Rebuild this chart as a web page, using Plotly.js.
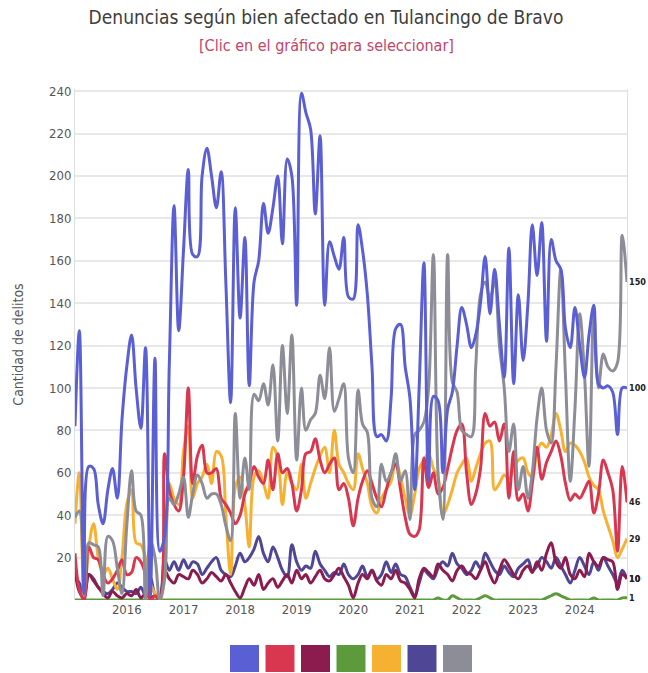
<!DOCTYPE html>
<html>
<head>
<meta charset="utf-8">
<script src="https://cdn.plot.ly/plotly-3.0.1.min.js"></script>
<style>html,body{margin:0;padding:0;background:#fff;}#chart{width:648px;height:673px;}</style>
</head>
<body>
<div id="chart"></div>
<script>
// Monthly series, Feb 2015 - Nov 2024
const startYear = 2015, startMonth = 2, nMonths = 118;
const yearTicks = ['2016','2017','2018','2019','2020','2021','2022','2023','2024'];

const blue = [82,127,3,63,62,45,36,52,62,48,85,110,125,100,81,119,2,114,23,30,
  110,186,127,165,203,163,162,200,213,200,185,202,150,93,185,133,171,101,150,160,
  187,173,185,200,168,208,200,139,239,230,222,182,219,139,169,162,156,171,143,142,
  177,165,144,110,77,78,75,95,128,130,110,95,52,100,159,56,96,94,60,90,
  98,120,138,130,119,125,140,162,135,156,130,105,166,102,144,113,140,177,153,178,
  122,170,160,156,128,119,138,120,105,125,139,102,100,101,98,78,100,100];
const red = [22,5,0,25,20,19,12,8,10,14,19,12,13,20,18,12,0,2,0,69,
  52,45,42,58,100,55,68,73,60,60,62,48,45,41,36,40,50,55,63,58,
  55,66,52,69,60,62,55,42,52,69,70,76,66,60,64,67,52,55,48,35,
  48,56,61,55,48,44,52,60,64,52,39,31,30,33,67,53,60,50,53,62,
  72,80,83,60,45,50,62,88,82,84,75,83,48,70,47,50,42,55,72,57,
  65,70,75,68,55,47,50,48,52,56,41,50,66,60,52,23,63,46];
const maroon = [14,4,1,12,9,6,3,1,4,2,1,3,2,5,1,3,1,2,0,14,
  10,8,12,11,10,14,12,8,10,13,11,9,12,8,4,1,6,10,7,12,
  5,8,10,6,9,12,8,14,10,12,8,11,14,10,9,12,15,11,7,1,
  8,12,10,14,9,7,12,10,14,9,8,5,1,10,15,13,11,17,14,12,
  9,14,16,13,12,10,14,18,12,8,14,19,16,12,10,14,16,13,18,14,
  22,27,18,15,20,12,10,14,11,22,18,16,20,19,18,5,12,10];
const green = [0,0,0,0,0,0,0,0,0,0,0,0,0,0,0,0,0,0,0,0,
  0,0,0,0,0,0,0,0,0,0,0,0,0,0,0,0,0,0,0,0,
  0,0,0,0,0,0,0,0,0,0,0,0,0,0,0,0,0,0,0,0,
  0,0,0,0,0,0,0,0,0,0,0,0,0,0,0,0,0,1,0,0,
  2,1,0,0,0,0,1,2,1,0,0,0,0,0,0,0,0,0,0,0,
  1,2,3,2,1,0,0,0,0,0,1,0,0,0,0,0,1,1];
const orange = [36,60,2,25,36,20,12,15,10,5,20,45,52,27,26,20,8,3,0,10,
  55,48,45,70,82,48,55,58,64,55,70,68,40,12,53,58,45,25,58,61,
  55,48,72,67,45,60,55,52,64,48,55,62,68,72,60,80,64,60,55,52,
  69,62,55,44,41,48,52,56,65,58,48,40,50,62,66,69,62,58,40,45,
  52,60,64,67,56,62,69,74,75,52,55,59,57,62,66,67,60,58,70,74,
  72,78,88,80,70,74,73,70,65,58,54,52,42,35,28,20,24,29];
const indigo = [11,8,3,12,10,6,4,3,5,8,6,4,4,3,6,2,11,3,2,19,
  14,18,14,19,15,18,17,12,15,18,20,14,12,11,16,22,18,20,24,30,
  22,18,25,20,14,11,26,18,14,16,15,23,17,14,11,13,12,17,12,10,
  12,16,11,14,10,12,18,13,17,12,11,6,2,8,14,12,10,15,18,16,
  22,17,15,12,14,18,15,22,18,14,12,16,13,11,15,17,19,14,16,20,
  18,15,20,16,12,8,14,20,16,12,18,14,20,16,12,8,14,10];
const gray = [39,42,2,27,26,25,2,30,28,15,3,35,61,42,40,0,28,20,0,10,
  48,45,50,58,39,50,59,55,48,50,50,45,35,28,88,48,67,52,97,94,
  102,92,111,75,120,88,125,66,100,80,85,88,106,95,119,89,95,102,67,60,
  99,83,79,48,44,64,56,60,69,56,61,38,78,80,84,100,163,60,38,163,
  103,98,80,78,77,110,144,150,142,150,120,100,70,83,52,63,48,60,86,100,
  80,74,110,156,106,56,90,135,106,63,136,100,116,110,108,112,172,150];

const seriesNames = ['Patrimonio','Vida e integridad','Libertad y seguridad sexual','Sociedad','Familia','Libertad personal','Otros bienes'];
const seriesColors = ['#5b5fd4','#d9364f','#8c1c4e','#5c9b3c','#f6b132','#4f4695','#8d8d98'];
const seriesData = [blue, red, maroon, green, orange, indigo, gray];

const months = [];
for (let i = 0; i < nMonths; i++) {
  const y = startYear + Math.floor((startMonth - 1 + i) / 12);
  const m = ((startMonth - 1 + i) % 12) + 1;
  months.push(y + '-' + String(m).padStart(2, '0') + '-01');
}

const drawOrder = [3, 5, 2, 4, 1, 6, 0];
const traces = drawOrder.map(k => ({
  type: 'scatter', mode: 'lines', x: months, y: seriesData[k], name: seriesNames[k],
  line: {color: seriesColors[k], width: 3, shape: 'spline', smoothing: 1},
  hoverinfo: 'x+y+name', showlegend: false
}));

const FONT = "'DejaVu Sans Condensed','Liberation Sans Narrow','Roboto',sans-serif";
// plot area in pixels
const L = 75, R = 627, T = 89, B = 600;
const px = v => (v - L) / (R - L);
const py = v => (B - v) / (B - T);

const shapes = [];
const legendX = [230, 265.5, 301, 336.5, 372, 407.5, 443];
seriesColors.forEach((c, i) => {
  shapes.push({type: 'rect', xref: 'paper', yref: 'paper', x0: px(legendX[i]), x1: px(legendX[i] + 29),
    y0: py(645), y1: py(672), fillcolor: c, line: {width: 0}});
});

const annotations = [];
seriesData.forEach((s, i) => {
  annotations.push({x: months[months.length - 1], y: s[s.length - 1], xref: 'x', yref: 'y',
    text: String(s[s.length - 1]), showarrow: false, xanchor: 'left', xshift: 0,
    font: {family: FONT, size: 9, color: '#222', weight: 700}});
});
annotations.push({xref: 'paper', yref: 'paper', x: px(326), y: py(45), xanchor: 'center', yanchor: 'middle',
  text: '[Clic en el gráfico para seleccionar]', showarrow: false,
  font: {family: FONT, size: 16, color: '#c2456a'}});

const layout = {
  width: 648, height: 673,
  margin: {l: L, r: 648 - R, t: T, b: 673 - B},
  paper_bgcolor: '#fff', plot_bgcolor: '#fff',
  title: {text: 'Denuncias según bien afectado en Tulancingo de Bravo', x: 326 / 648,
    xanchor: 'center', y: 1 - 17 / 673, yanchor: 'middle', font: {family: FONT, size: 19, color: '#3d3d3d'}},
  xaxis: {type: 'date', range: [months[0], months[months.length - 1]],
    tickvals: yearTicks.map(y => y + '-01-01'), ticktext: yearTicks,
    showgrid: false, zeroline: false, showline: false, ticks: '',
    tickfont: {family: FONT, size: 13, color: '#555'}},
  yaxis: {range: [0, 241], tickvals: [20,40,60,80,100,120,140,160,180,200,220,240],
    gridcolor: '#e8e8e8', gridwidth: 1.5, zeroline: false, showline: true, mirror: true,
    linecolor: '#dedede', linewidth: 1, ticks: '',
    tickfont: {family: FONT, size: 13, color: '#555'},
    title: {text: 'Cantidad de delitos', standoff: 22, font: {family: FONT, size: 14, color: '#555'}}},
  shapes: shapes, annotations: annotations,
  showlegend: false, hovermode: 'closest'
};

Plotly.newPlot('chart', traces, layout, {displayModeBar: false, responsive: false});
</script>
</body>
</html>
